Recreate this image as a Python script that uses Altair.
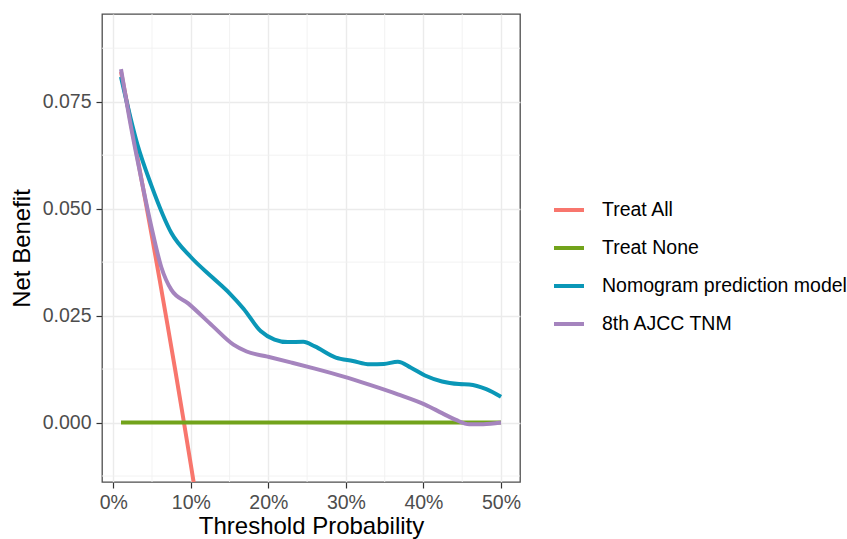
import altair as alt
import pandas as pd

series_names = ["Treat All", "Treat None", "Nomogram prediction model", "8th AJCC TNM"]
series_colors = ["#F8766D", "#72A31B", "#0A97B7", "#A584BE"]

treat_all_x = [0.01, 0.02, 0.03, 0.04, 0.05, 0.06, 0.07, 0.08, 0.09, 0.10, 0.11]
treat_all_y = [0.0820, 0.0726, 0.0631, 0.0533, 0.0434, 0.0332, 0.0228, 0.0122, 0.0013, -0.0098, -0.0211]

treat_none_x = [0.01, 0.50]
treat_none_y = [0.0, 0.0]

nomo_x = [0.01, 0.031, 0.049, 0.075, 0.100, 0.128, 0.150, 0.168, 0.190, 0.208, 0.225, 0.245,
          0.260, 0.287, 0.309, 0.331, 0.349, 0.367, 0.384, 0.402, 0.424, 0.446, 0.459, 0.481, 0.50]
nomo_y = [0.0808, 0.0651, 0.0555, 0.0443, 0.0387, 0.0339, 0.0302, 0.0266, 0.0214, 0.0194, 0.0188, 0.0189,
          0.0178, 0.0152, 0.0144, 0.0136, 0.0137, 0.0142, 0.0128, 0.0110, 0.0096, 0.0090, 0.0089, 0.0078, 0.0060]

ajcc_x = [0.01, 0.022, 0.035, 0.049, 0.062, 0.075, 0.097, 0.128, 0.155, 0.172, 0.199, 0.230,
          0.260, 0.296, 0.331, 0.367, 0.402, 0.424, 0.442, 0.459, 0.477, 0.50]
ajcc_y = [0.0826, 0.0700, 0.0580, 0.0459, 0.0363, 0.0310, 0.0278, 0.0226, 0.0182, 0.0166, 0.0154, 0.0140,
          0.0126, 0.0108, 0.0088, 0.0066, 0.0042, 0.0022, 0.0006, -0.0004, -0.0004, 0.0]

x_ticks = [0.0, 0.1, 0.2, 0.3, 0.4, 0.5]
x_minor = [0.05, 0.15, 0.25, 0.35, 0.45]
y_ticks = [0.0, 0.025, 0.05, 0.075]
y_minor = [-0.0125, 0.0125, 0.0375, 0.0625, 0.0875]

x_domain = [-0.0145, 0.5245]
y_domain = [-0.0139, 0.0955]

rows = []
for name, xs, ys in [
    (series_names[0], treat_all_x, treat_all_y),
    (series_names[1], treat_none_x, treat_none_y),
    (series_names[2], nomo_x, nomo_y),
    (series_names[3], ajcc_x, ajcc_y),
]:
    for i, (xv, yv) in enumerate(zip(xs, ys)):
        rows.append({"series": name, "x": xv, "y": yv, "order": i})
df = pd.DataFrame(rows)

xscale = alt.Scale(domain=x_domain, nice=False, zero=False)
yscale = alt.Scale(domain=y_domain, nice=False, zero=False)

xminor_df = pd.DataFrame({"x": x_minor})
yminor_df = pd.DataFrame({"y": y_minor})

minor_x = alt.Chart(xminor_df).mark_rule(color="#F0F0F0", strokeWidth=0.9).encode(
    x=alt.X("x:Q", scale=xscale)
)
minor_y = alt.Chart(yminor_df).mark_rule(color="#F0F0F0", strokeWidth=0.9).encode(
    y=alt.Y("y:Q", scale=yscale)
)

lines = alt.Chart(df).mark_line(strokeWidth=4, interpolate="monotone", clip=True).encode(
    x=alt.X("x:Q", scale=xscale,
            axis=alt.Axis(values=x_ticks, format=".0%", title="Threshold Probability")),
    y=alt.Y("y:Q", scale=yscale,
            axis=alt.Axis(values=y_ticks, format=".3f", title="Net Benefit")),
    color=alt.Color("series:N",
                    scale=alt.Scale(domain=series_names, range=series_colors),
                    sort=series_names,
                    legend=alt.Legend(title=None, orient="none", legendX=450, legendY=179,
                                      symbolType="stroke", symbolSize=900, symbolStrokeWidth=4,
                                      labelFontSize=19.5, labelColor="#000000",
                                      labelFont="Liberation Sans", labelOffset=16,
                                      labelLimit=0, rowPadding=11)),
    order=alt.Order("order:Q"),
    detail="series:N",
)

chart = alt.layer(minor_x, minor_y, lines).properties(
    width=418, height=468,
    padding={"left": 102, "top": 14, "right": 327, "bottom": 57},
    autosize=alt.AutoSizeParams(type="none"),
).configure_view(
    stroke="#4D4D4D", strokeWidth=1.3
).configure_axis(
    grid=True, gridColor="#EBEBEB", gridWidth=1.4,
    domain=False, tickColor="#333333", tickSize=6, tickWidth=1.2,
    labelFont="Liberation Sans", labelFontSize=19.5, labelColor="#4D4D4D",
    titleFont="Liberation Sans", titleFontSize=24, titleFontWeight="normal", titleColor="#000000",
    labelPadding=5,
).configure_axisX(
    titlePadding=3, labelPadding=5,
).configure_axisY(
    titlePadding=8,
)

chart.save("out.html", embed_options={"renderer": "svg", "actions": False})
